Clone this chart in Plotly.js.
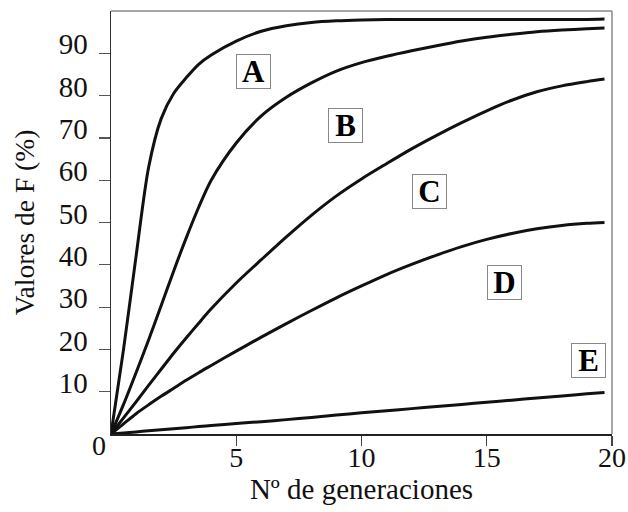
<!DOCTYPE html>
<html>
<head>
<meta charset="utf-8">
<script src="https://cdn.plot.ly/plotly-3.0.1.min.js"></script>
<style>html,body{margin:0;padding:0;background:#fff;}#chart{width:628px;height:512px;}</style>
</head>
<body>
<div id="chart"></div>
<script>
// Generations (x)
const generations = [0,0.5,1,1.5,2,2.5,3,3.5,4,5,6,7,8,9,10,11,12,13,14,15,16,17,18,19,19.7];
// F values (%) for each curve
const curveA = [0,20,42,63,74.5,80.5,84.2,87.4,89.6,92.9,95.2,96.5,97.3,97.7,97.9,98,98,98,98,98,98,98,98,98,98.1];
const curveB = [0,7,14.5,22.2,30.3,38.5,46.3,53.6,60,68.8,75.2,79.6,83,85.8,87.8,89.3,90.6,91.8,92.9,93.8,94.5,95.1,95.5,95.8,96];
const curveC = [0,3.8,7.6,11.5,15.3,19.1,22.7,26.2,29.6,35.7,41.2,46.6,51.7,56.3,60.3,63.9,67.4,70.6,73.6,76.4,78.9,80.9,82.3,83.3,83.9];
const curveD = [0,2.4,4.8,6.9,8.9,10.8,12.7,14.5,16.2,19.6,22.9,26.1,29.2,32.2,35,37.7,40.1,42.3,44.3,46,47.4,48.5,49.3,49.8,50];
const curveE = [0,0.25,0.5,0.75,1,1.25,1.5,1.75,2,2.5,2.9,3.4,3.9,4.5,5,5.5,6,6.5,7,7.5,8,8.5,9,9.5,9.8];
const curveNames = ['A','B','C','D','E'];
const xTickVals = [5,10,15,20];
const xTickText = ['5','10','15','20'];
const yTickVals = [10,20,30,40,50,60,70,80,90];
const yTickText = ['10','20','30','40','50','60','70','80','90'];

const serif = 'Liberation Serif, Times New Roman, serif';
const series = [curveA, curveB, curveC, curveD, curveE];
const traces = series.map((ys, i) => ({
  x: generations, y: ys, name: curveNames[i], type: 'scatter', mode: 'lines',
  line: {color: '#111', width: 3, shape: 'spline', smoothing: 0.8},
  hoverinfo: 'skip'
}));

// label placement (data coords)
const labelAt = [[5.7,85.7],[9.36,72.9],[12.7,57.4],[15.71,35.7],[19.06,17.4]];
const annotations = curveNames.map((t, i) => ({
  x: labelAt[i][0], y: labelAt[i][1], xref: 'x', yref: 'y', text: '<b>' + t + '</b>',
  showarrow: false, font: {family: serif, size: 31, color: '#000'},
  bordercolor: '#888', borderwidth: 1, borderpad: 0, width: 33, height: 33,
  bgcolor: '#fff', align: 'center', valign: 'middle'
}));
annotations.push({
  x: 0, y: 0, xref: 'x', yref: 'y', text: '0', showarrow: false,
  xanchor: 'center', yanchor: 'top', xshift: -12.5, yshift: 6,
  font: {family: serif, size: 28, color: '#111'}
});

const layout = {
  width: 628, height: 512,
  margin: {l: 111, r: 16, t: 11, b: 78, pad: 0},
  paper_bgcolor: '#fff', plot_bgcolor: '#fff',
  showlegend: false,
  font: {family: serif, color: '#111'},
  xaxis: {
    range: [0, 20], tickvals: xTickVals, ticktext: xTickText,
    ticks: 'outside', ticklen: 10, tickwidth: 1.2, tickcolor: '#444',
    showline: true, linecolor: '#222', linewidth: 1.5,
    showgrid: false, zeroline: false,
    ticklabelstandoff: -12,
    tickfont: {family: serif, size: 28, color: '#111'},
    title: {text: 'Nº de generaciones', font: {family: serif, size: 29, color: '#111'}, standoff: 4}
  },
  yaxis: {
    range: [0, 100], tickvals: yTickVals, ticktext: yTickText,
    ticks: 'outside', ticklen: 11, tickwidth: 1.2, tickcolor: '#555',
    showline: true, linecolor: '#333', linewidth: 1.5,
    showgrid: false, zeroline: false,
    ticklabelstandoff: 5, ticklabelshift: -9,
    tickfont: {family: serif, size: 29, color: '#111'},
    title: {text: 'Valores de F (%)', font: {family: serif, size: 27.5, color: '#111'}, standoff: 16}
  },
  shapes: [
    {type: 'line', xref: 'paper', yref: 'paper', x0: 0, x1: 1, y0: 1, y1: 1, line: {color: '#888', width: 1.5}, layer: 'below'},
    {type: 'line', xref: 'paper', yref: 'paper', x0: 1, x1: 1, y0: 0, y1: 1, line: {color: '#888', width: 1.5}, layer: 'below'}
  ],
  annotations: annotations
};

Plotly.newPlot('chart', traces, layout, {staticPlot: true, displayModeBar: false});
</script>
</body>
</html>
